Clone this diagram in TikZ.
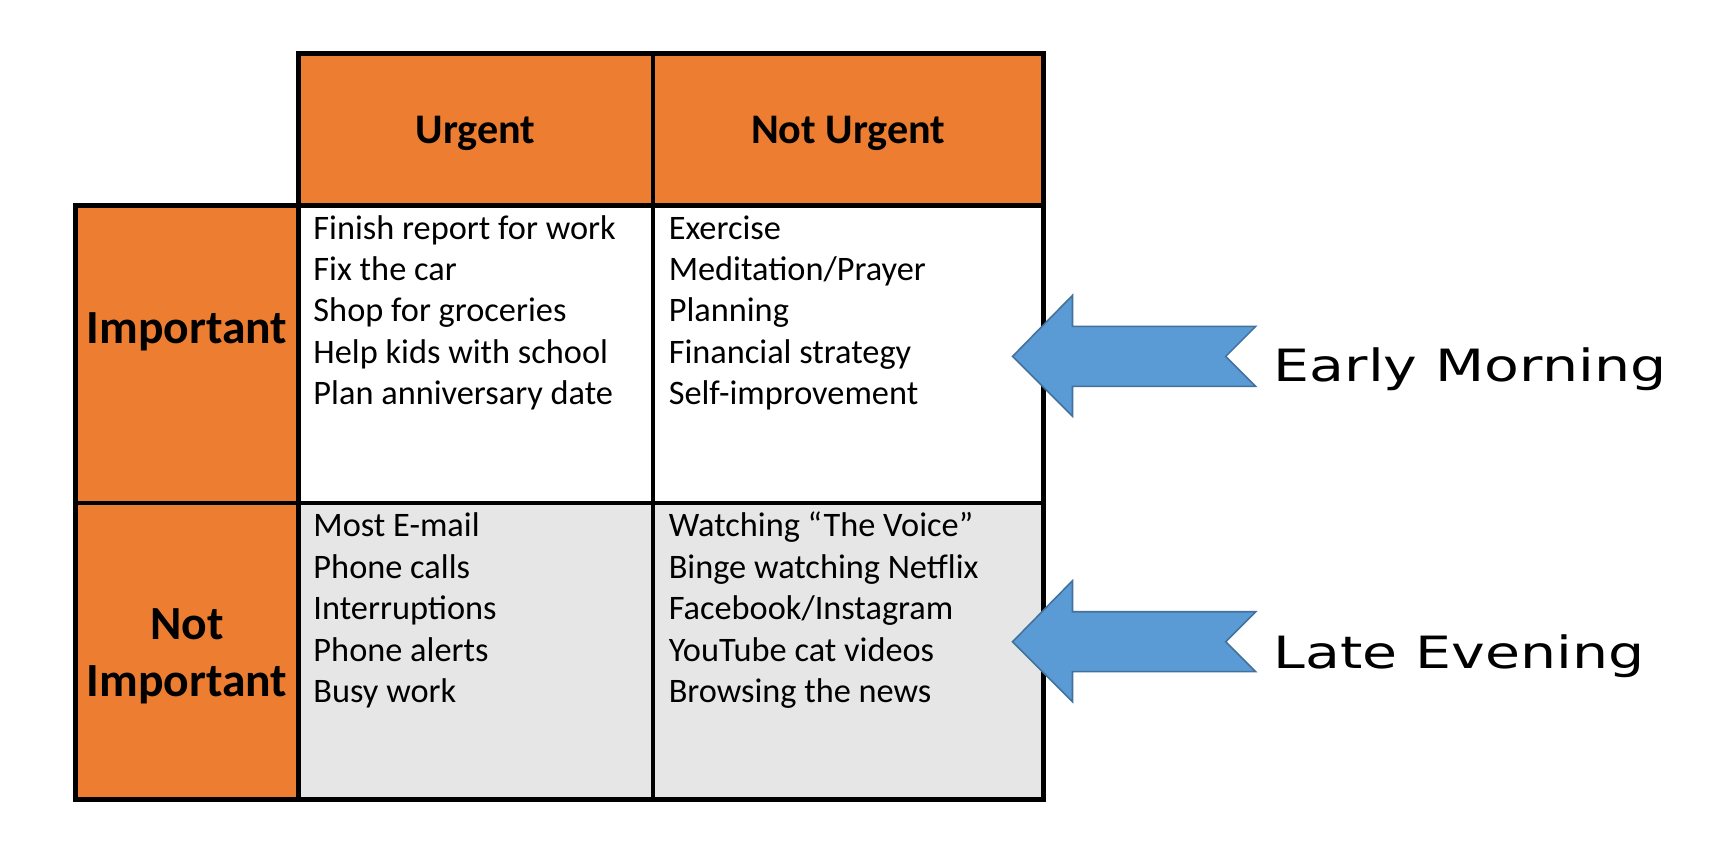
\documentclass[tikz,border=0pt]{standalone}
\usepackage{fontspec}
\setmainfont{Carlito}
\newfontfamily\handfont[FakeStretch=1.28]{DejaVu Sans}
\definecolor{quadorange}{HTML}{ED7D31}
\definecolor{quadgray}{HTML}{E6E6E6}
\definecolor{arrowblue}{HTML}{5B9BD5}
\definecolor{arrowedge}{HTML}{41719C}
\begin{document}
\begin{tikzpicture}[x=0.02cm, y=-0.02cm,
  cell/.style={draw=black, line width=2.3pt, inner sep=0pt},
  headcell/.style={cell, fill=quadorange},
  headtext/.style={inner sep=0pt, align=center, font=\fontsize{21.6}{28.5}\selectfont\bfseries},
  rowtext/.style={inner sep=0pt, align=center, font=\fontsize{24.4}{29}\selectfont\bfseries},
  item/.style={anchor=base west, inner sep=0pt, font=\fontsize{17.6}{21}\selectfont},
  hand/.style={anchor=base west, inner sep=0pt, font=\handfont\fontsize{22.8}{27}\selectfont},
  bigarrow/.style={fill=arrowblue, draw=arrowedge, line width=0.8pt, line join=miter}]
\useasboundingbox (0,0) rectangle (1560,775);
\node[headcell, minimum width=6.38cm, minimum height=2.74cm] (urg) at (428.5,116.5) {};
\node[headcell, minimum width=7.04cm, minimum height=2.74cm] (nurg) at (764,116.5) {};
\node[headcell, minimum width=4.02cm, minimum height=5.36cm] (imp) at (168.5,319) {};
\node[headcell, minimum width=4.02cm, minimum height=5.34cm] (nimp) at (168.5,586.5) {};
\node[cell, fill=white, minimum width=6.38cm, minimum height=5.36cm] (ui) at (428.5,319) {};
\node[cell, fill=white, minimum width=7.04cm, minimum height=5.36cm] (ni) at (764,319) {};
\node[cell, fill=quadgray, minimum width=6.38cm, minimum height=5.34cm] (un) at (428.5,586.5) {};
\node[cell, fill=quadgray, minimum width=7.04cm, minimum height=5.34cm] (nn) at (764,586.5) {};
\node[headtext] (urglabel) at (428.5,120) {Urgent};
\node[headtext] (nurglabel) at (764,120) {Not Urgent};
\node[rowtext] (implabel) at (168.5,299) {Important};
\node[rowtext] (nimplabel) at (168.5,591) {Not\\Important};
\node[item] (ui1) at (282,216) {Finish report for work};
\node[item] (ui2) at (282,253) {Fix the car};
\node[item] (ui3) at (282,290) {Shop for groceries};
\node[item] (ui4) at (282,327) {Help kids with school};
\node[item] (ui5) at (282,364) {Plan anniversary date};
\node[item] (ni1) at (602,216) {Exercise};
\node[item] (ni2) at (602,253) {Meditation/Prayer};
\node[item] (ni3) at (602,290) {Planning};
\node[item] (ni4) at (602,327) {Financial strategy};
\node[item] (ni5) at (602,364) {Self-improvement};
\node[item] (un1) at (282,483) {Most E-mail};
\node[item] (un2) at (282,521) {Phone calls};
\node[item] (un3) at (282,558) {Interruptions};
\node[item] (un4) at (282,596) {Phone alerts};
\node[item] (un5) at (282,633) {Busy work};
\node[item] (nn1) at (602,483) {Watching “The Voice”};
\node[item] (nn2) at (602,521) {Binge watching Netflix};
\node[item] (nn3) at (602,558) {Facebook/Instagram};
\node[item] (nn4) at (602,596) {YouTube cat videos};
\node[item] (nn5) at (602,633) {Browsing the news};
\coordinate (morningtip) at (912,321);
\coordinate (eveningtip) at (912,578);
\draw[bigarrow] (morningtip) -- ++(54,-55) -- ++(0,28) -- ++(165,0) -- ++(-27,27) -- ++(27,27) -- ++(-165,0) -- ++(0,27) -- cycle;
\draw[bigarrow] (eveningtip) -- ++(54,-55) -- ++(0,28) -- ++(165,0) -- ++(-27,27) -- ++(27,27) -- ++(-165,0) -- ++(0,27) -- cycle;
\node[hand] (morning) at (1147,344) {Early Morning};
\node[hand] (evening) at (1147,602) {Late Evening};
\end{tikzpicture}
\end{document}
